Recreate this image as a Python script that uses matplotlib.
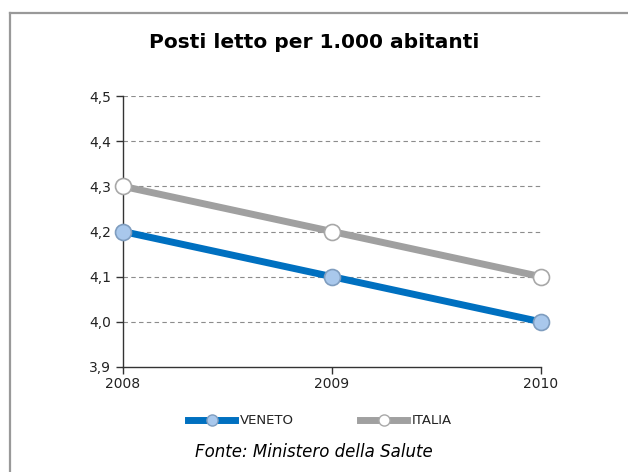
import matplotlib.pyplot as plt
from matplotlib.lines import Line2D
from matplotlib.ticker import FuncFormatter

years = [2008, 2009, 2010]
veneto = [4.2, 4.1, 4.0]
italia = [4.3, 4.2, 4.1]
y_ticks = [3.9, 4.0, 4.1, 4.2, 4.3, 4.4, 4.5]

W, H = 628, 472
fig = plt.figure(figsize=(W / 100, H / 100), dpi=100)
fig.patch.set_facecolor('white')

# open frame round the chart (top and left edges only, the rest is cropped)
fig.add_artist(Line2D([9.5 / W, 1], [1 - 13 / H, 1 - 13 / H], color='#999999', lw=1.6))
fig.add_artist(Line2D([9.5 / W, 9.5 / W], [0, 1 - 13 / H], color='#999999', lw=1.6))

ax = fig.add_axes([123 / W, 1 - 367 / H, (541 - 123) / W, (367 - 96) / H])

ax.plot(years, italia, color='#A0A0A0', lw=5, marker='o', ms=11.5,
        mfc='white', mec='#A8A8A8', mew=1.2, clip_on=False, zorder=3)
ax.plot(years, veneto, color='#0070C0', lw=5, marker='o', ms=11.5,
        mfc='#A9C8EC', mec='#7F9DBF', mew=1.2, clip_on=False, zorder=4)

ax.set_xlim(2008, 2010)
ax.set_ylim(3.9, 4.5)
ax.set_xticks(years)
ax.set_yticks(y_ticks)
ax.yaxis.set_major_formatter(FuncFormatter(lambda v, p: f'{v:.1f}'.replace('.', ',')))

for y in y_ticks[1:]:
    ax.axhline(y, color='#8C8C8C', lw=0.8, ls=(0, (4, 3)), zorder=1)

for side in ['top', 'right']:
    ax.spines[side].set_visible(False)
for side in ['left', 'bottom']:
    ax.spines[side].set_color('#333333')
    ax.spines[side].set_linewidth(1.0)

ax.tick_params(axis='both', colors='#333333', labelcolor='#222222',
               labelsize=10, length=5, width=1.0)
ax.tick_params(axis='x', pad=2)

fig.text(0.5, 1 - 42 / H, 'Posti letto per 1.000 abitanti', ha='center',
         va='center', fontsize=14.5, fontweight='bold', color='black')

handles = [
    Line2D([], [], color='#0070C0', lw=5, marker='o', ms=8,
           mfc='#A9C8EC', mec='#7F9DBF', mew=1.0),
    Line2D([], [], color='#A0A0A0', lw=5, marker='o', ms=8,
           mfc='white', mec='#A8A8A8', mew=1.0),
]
fig.legend(handles, ['VENETO', 'ITALIA'], loc='center', ncol=2,
           bbox_to_anchor=(0.5 + 6 / W, 1 - 421 / H), frameon=False, fontsize=9.5,
           handlelength=3.6, handletextpad=0.35, columnspacing=5.0,
           labelcolor='#222222')

fig.text(0.5, 1 - 452 / H, 'Fonte: Ministero della Salute', ha='center',
         va='center', fontsize=12, style='italic', color='black')

fig.savefig('out.png', dpi=100)
